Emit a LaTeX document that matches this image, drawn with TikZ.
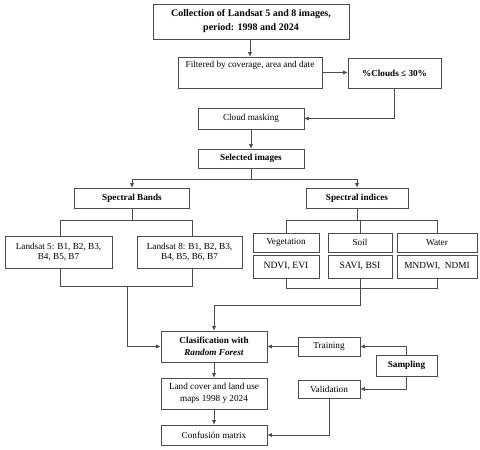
\documentclass[tikz,border=0pt]{standalone}
\usepackage{fontspec}
\setmainfont{Liberation Serif}
\usetikzlibrary{arrows.meta}
\begin{document}
\begin{tikzpicture}[x=1pt,y=-1pt,
  box/.style={draw=black!70, line width=0.6pt, rectangle, inner sep=0pt, align=center,
    font=\fontsize{9.2}{11.5}\selectfont},
  bbox/.style={box, font=\bfseries\fontsize{9.2}{11.5}\selectfont},
  ibox/.style={box, font=\fontsize{9.6}{11}\selectfont},
  ln/.style={draw=black!70, line width=0.6pt},
  arr/.style={ln, -{Latex[length=4.5pt,width=4pt]}}]
\path[use as bounding box] (0,0) rectangle (480,450);
% boxes
\node[box, minimum width=196pt, minimum height=35pt, font=\bfseries\fontsize{10}{14}\selectfont] (coll) at (251,21.5) {Collection of Landsat 5 and 8 images,\\period: 1998 and 2024};
\node[box, minimum width=144pt, minimum height=31pt] (filt) at (250,72.5) {Filtered by coverage, area and date\\[5pt]\mbox{}};
\node[bbox, minimum width=93pt, minimum height=30pt] (cloud) at (394.5,73) {\%Clouds ≤ 30\%};
\node[box, minimum width=106pt, minimum height=21pt] (mask) at (251,118.5) {Cloud masking};
\node[bbox, minimum width=106pt, minimum height=19pt] (sel) at (251,158.5) {Selected images};
\node[bbox, minimum width=115pt, minimum height=20pt] (bands) at (132,198) {Spectral Bands};
\node[box, minimum width=107pt, minimum height=32pt, font=\fontsize{9.2}{10.5}\selectfont] (ls5) at (58.5,252) {Landsat 5: B1, B2, B3,\\B4, B5, B7};
\node[box, minimum width=105pt, minimum height=32pt, font=\fontsize{9.2}{10.5}\selectfont] (ls8) at (189.5,252) {Landsat 8: B1, B2, B3,\\B4, B5, B6, B7};
\node[bbox, minimum width=102pt, minimum height=20pt] (idx) at (357,198) {Spectral indices};
\node[box, minimum width=66pt, minimum height=19pt] (veg) at (286,242.5) {Vegetation};
\node[box, minimum width=64pt, minimum height=19pt] (soil) at (360,242.5) {Soil};
\node[box, minimum width=80pt, minimum height=19pt] (water) at (437,242.5) {Water};
\node[ibox, minimum width=66pt, minimum height=23pt] (ndvi) at (286,266.5) {NDVI, EVI};
\node[ibox, minimum width=64pt, minimum height=23pt] (savi) at (360,266.5) {SAVI, BSI};
\node[box, minimum width=80pt, minimum height=23pt, font=\fontsize{9.3}{11}\selectfont] (mndwi) at (437,266.5) {MNDWI,\ \ NDMI};
\node[box, minimum width=106pt, minimum height=31pt] (clas) at (214,346.5) {\textbf{Clasification with}\\\textbf{\textit{Random Forest}}};
\node[box, minimum width=62pt, minimum height=19pt] (train) at (329,346.5) {Training};
\node[bbox, minimum width=61pt, minimum height=21pt] (samp) at (406.5,365.5) {Sampling};
\node[box, minimum width=106pt, minimum height=31pt] (land) at (214,393.5) {Land cover and land use\\maps 1998 y 2024};
\node[box, minimum width=62pt, minimum height=18pt] (valid) at (329,389) {Validation};
\node[box, minimum width=106pt, minimum height=20pt] (conf) at (214,435) {Confusión matrix};
% helper coordinates
\coordinate (c1) at (394.5,118.5);
\coordinate (s1) at (251,179);
\coordinate (bL) at (132,179);
\coordinate (bR) at (357,179);
\coordinate (b1) at (132,220);
\coordinate (b5) at (60,220);
\coordinate (b8) at (192,220);
\coordinate (m5) at (60,286);
\coordinate (m8) at (192,286);
\coordinate (mC) at (127,286);
\coordinate (mD) at (127,346.5);
\coordinate (i1) at (357,220);
\coordinate (iV) at (286,220);
\coordinate (iS) at (360,220);
\coordinate (iW) at (437,220);
\coordinate (n1) at (286,288);
\coordinate (n3) at (437,288);
\coordinate (p1) at (360,305);
\coordinate (p2) at (214,305);
\coordinate (sa1) at (406.5,346.5);
\coordinate (sa2) at (406.5,389);
\coordinate (v1) at (329,435);
% connectors
\draw[arr] (coll.south -| filt) -- (filt);
\draw[arr] (filt.east) -- (cloud.west |- filt.east);
\draw[arr] (cloud.south) -- (c1) -- (mask.east);
\draw[arr] (mask) -- (sel);
\draw[ln] (sel.south) -- (s1);
\draw[ln] (bL) -- (bR);
\draw[arr] (bL) -- (bands.north);
\draw[arr] (bR) -- (idx.north);
\draw[ln] (bands.south) -- (b1);
\draw[ln] (b5) -- (b8);
\draw[ln] (b5) -- (ls5.north -| b5);
\draw[ln] (b8) -- (ls8.north -| b8);
\draw[ln] (ls5.south -| m5) -- (m5) -- (m8) -- (ls8.south -| m8);
\draw[arr] (mC) -- (mD) -- (clas.west);
\draw[ln] (idx.south) -- (i1);
\draw[ln] (iV) -- (iW);
\draw[ln] (iV) -- (veg.north);
\draw[ln] (iS) -- (soil.north);
\draw[ln] (iW) -- (water.north);
\draw[ln] (ndvi.south) -- (n1) -- (n3) -- (mndwi.south);
\draw[arr] (savi.south) -- (p1) -- (p2) -- (clas.north);
\draw[arr] (train.west) -- (clas.east);
\draw[arr] (samp.north) -- (sa1) -- (train.east);
\draw[arr] (samp.south) -- (sa2) -- (valid.east);
\draw[arr] (clas) -- (land);
\draw[arr] (land) -- (conf);
\draw[arr] (valid.south) -- (v1) -- (conf.east);
\end{tikzpicture}
\end{document}
